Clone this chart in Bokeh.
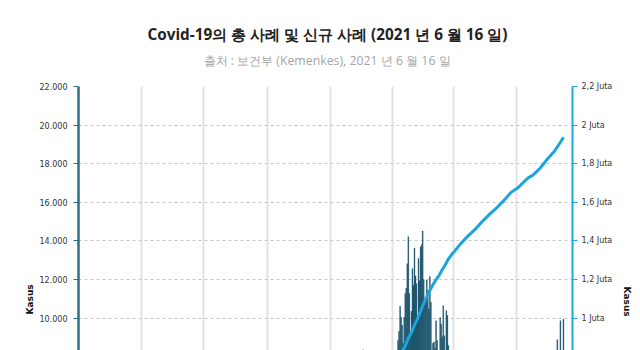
from datetime import datetime, timedelta
import pandas as pd
from bokeh.plotting import figure
from bokeh.models import Range1d, LinearAxis, FixedTicker, CustomJSTickFormatter, Grid, Title
from bokeh.embed import file_html
from bokeh.resources import INLINE

# ---------------- data ----------------
title_text = "Covid-19의 총 사례 및 신규 사례 (2021 년 6 월 16 일)"
subtitle_text = "출처 : 보건부 (Kemenkes), 2021 년 6 월 16 일"
axis_title = "Kasus"

# daily new cases (bars)
dec_dates = ["2020-12-03"]
dec_new = [8369]
janfeb_start = "2021-01-01"
janfeb_new = [8072, 6877, 7203, 5854, 7445, 8854, 9321, 10617, 10046, 9640,
              8692, 10047, 11278, 11557, 12818, 14224, 11287, 9086, 10365, 12568,
              11703, 13632, 12191, 11788, 9994, 13094, 11948, 13695, 13802, 14518,
              12001,
              10994, 10995, 11984, 11434, 10485, 12156, 10827, 8242, 8700, 8776,
              8435, 9869, 8844, 6765, 6462, 10029, 9687, 9039, 10650, 9100,
              6614, 10390, 10140, 8580, 8232, 7600, 6208, 5560]
jun_start = "2021-06-10"
jun_new = [8892, 8083, 7465, 9868, 8189, 8161, 9944]

# cumulative total cases (line)
total_dates = ["2021-01-01", "2021-01-04", "2021-01-07", "2021-01-10", "2021-01-13",
               "2021-01-16", "2021-01-19", "2021-01-22", "2021-01-25", "2021-01-28",
               "2021-01-31", "2021-02-03", "2021-02-06", "2021-02-09", "2021-02-12",
               "2021-02-15", "2021-02-18", "2021-02-21", "2021-02-24", "2021-02-27",
               "2021-03-02", "2021-03-08", "2021-03-15", "2021-03-22", "2021-03-29",
               "2021-04-05", "2021-04-12", "2021-04-19", "2021-04-26", "2021-05-03",
               "2021-05-10", "2021-05-13", "2021-05-15", "2021-05-17", "2021-05-24",
               "2021-05-31", "2021-06-07", "2021-06-13", "2021-06-16"]
total_cases = [751270, 771204, 796824, 827127, 857144,
               895743, 926481, 964384, 998357, 1037094,
               1077415, 1111388, 1145463, 1173232, 1200312,
               1222383, 1251138, 1277502, 1306612, 1328652,
               1347026, 1386556, 1425044, 1460184, 1501093,
               1537967, 1571824, 1609300, 1651794, 1677274,
               1713684, 1728204, 1734285, 1739750, 1775220,
               1821703, 1863031, 1911358, 1937652]

left_ticks = [10000, 12000, 14000, 16000, 18000, 20000, 22000]
right_ticks = [1000000, 1200000, 1400000, 1600000, 1800000, 2000000, 2200000]
month_lines = ["2020-05-01", "2020-07-01", "2020-09-01", "2020-11-01",
               "2021-01-01", "2021-03-01", "2021-05-01"]

# ---------------- build ----------------
bar_x = (list(pd.to_datetime(dec_dates))
         + list(pd.date_range(janfeb_start, periods=len(janfeb_new)))
         + list(pd.date_range(jun_start, periods=len(jun_new))))
bar_y = dec_new + janfeb_new + jun_new

W, H = 640, 350
FL, FR, FT = 78, 572, 86

x_start = datetime(2020, 3, 1)
x_end = x_start + timedelta(days=480.8)

p = figure(width=W, height=H, output_backend="svg", toolbar_location=None,
           x_axis_type="datetime", x_axis_location=None, y_axis_location=None,
           x_range=Range1d(x_start, x_end), y_range=Range1d(8330, 22000),
           min_border_left=FL, min_border_right=W - FR, min_border_top=FT,
           min_border_bottom=0, title_location=None)
p.outline_line_color = None
p.background_fill_color = "white"
p.border_fill_color = "white"
p.extra_y_ranges = {"total": Range1d(833000, 2200000)}
for g in p.grid:
    g.visible = False

# grids
vgrid = Grid(dimension=0,
             ticker=FixedTicker(ticks=[pd.Timestamp(d).value // 10**6 for d in month_lines]),
             grid_line_color="#e2e2e2", grid_line_width=2)
hgrid = Grid(dimension=1, ticker=FixedTicker(ticks=left_ticks),
             grid_line_color="#c8c8c8", grid_line_dash="3 3", grid_line_width=1)
p.add_layout(vgrid, "center")
p.add_layout(hgrid, "center")

# bars and line
p.vbar(x=bar_x, top=bar_y, bottom=0, width=0.8 * 86400000,
       fill_color="#0d4a63", line_color="#0d4a63", line_width=0.4)
p.line(x=list(pd.to_datetime(total_dates)), y=total_cases, y_range_name="total",
       line_color="#1aa6dc", line_width=3)

# axes
left = LinearAxis(ticker=FixedTicker(ticks=left_ticks),
                  formatter=CustomJSTickFormatter(code="""
return Math.round(tick).toString().replace(/\\B(?=(\\d{3})+(?!\\d))/g, '.');
"""))
left.axis_line_color = "#2a6f87"
left.axis_line_width = 2.5
left.major_tick_line_color = "#2a6f87"
left.major_tick_out = 5
left.major_tick_in = 0
left.minor_tick_line_color = None
left.major_label_standoff = 6
left.major_label_text_font = "DejaVu Sans"
left.major_label_text_font_size = "8px"
left.major_label_text_color = "#333333"
p.add_layout(left, "left")

right = LinearAxis(y_range_name="total", ticker=FixedTicker(ticks=right_ticks),
                   formatter=CustomJSTickFormatter(code="""
const v = Math.round(tick / 100000) / 10;
return v.toString().replace('.', ',') + ' Juta';
"""))
right.axis_line_color = "#1ea8e2"
right.axis_line_width = 2
right.major_tick_line_color = "#1ea8e2"
right.major_tick_out = 5
right.major_tick_in = 0
right.minor_tick_line_color = None
right.major_label_standoff = 4
right.major_label_text_font = "DejaVu Sans"
right.major_label_text_font_size = "8px"
right.major_label_text_color = "#333333"
p.add_layout(right, "right")

# titles (subtitle first: nearest to the plot)
p.add_layout(Title(text=subtitle_text, align="left", offset=125,
                   text_font="Open Sans", text_font_size="12.3px",
                   text_font_style="normal", text_color="#a6a6a6",
                   standoff=35), "above")
p.add_layout(Title(text=title_text, align="left", offset=69,
                   text_font="Open Sans", text_font_size="15.3px",
                   text_font_style="bold", text_color="#222222",
                   standoff=-23), "above")
p.add_layout(Title(text=axis_title, align="left", offset=36,
                   text_font="DejaVu Sans", text_font_size="9px",
                   text_font_style="bold", text_color="#111111",
                   standoff=3), "left")
p.add_layout(Title(text=axis_title, align="left", offset=200,
                   text_font="DejaVu Sans", text_font_size="9px",
                   text_font_style="bold", text_color="#111111",
                   standoff=13), "right")

open("out.html", "w").write(file_html(p, INLINE))
